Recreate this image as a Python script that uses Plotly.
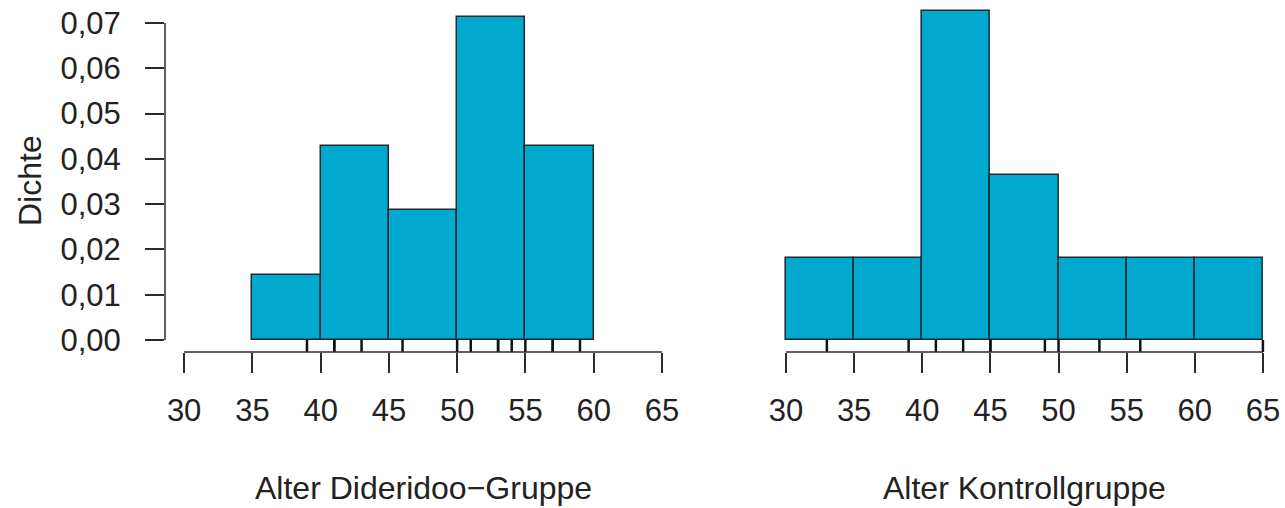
import plotly.graph_objects as go

# Histogram bins (left edges, width 5) and densities
bin_width = 5
didgeridoo_edges = [35, 40, 45, 50, 55]
didgeridoo_density = [0.0143, 0.0429, 0.0286, 0.0714, 0.0429]
control_edges = [30, 35, 40, 45, 50, 55, 60]
control_density = [0.0182, 0.0182, 0.0727, 0.0364, 0.0182, 0.0182, 0.0182]

# Individual ages shown as rug marks
didgeridoo_ages = [39, 41, 41, 43, 46, 50, 51, 53, 53, 54, 55, 57, 57, 59]
control_ages = [33, 39, 41, 43, 45, 45, 49, 50, 53, 56, 65]

# Axis ticks
x_ticks = [30, 35, 40, 45, 50, 55, 60, 65]
y_ticks = [0.00, 0.01, 0.02, 0.03, 0.04, 0.05, 0.06, 0.07]
y_ticktext = [f"{v:.2f}".replace(".", ",") for v in y_ticks]

FILL = "#00a9cd"
EDGE = "#1e2a30"
INK = "#2b2b2b"
TEXT = "#222222"
FONT = "Liberation Sans, Arial, Helvetica, sans-serif"
FS = 31
FS_TITLE = 32

W, H = 1285, 508
x_range = [28.6, 66.4]
y_range = [-0.00265, 0.07464]
rug_bottom = y_range[0]

fig = go.Figure()


def add_hist(edges, dens, xa, ya):
    fig.add_trace(go.Bar(
        x=[e + bin_width / 2 for e in edges], y=dens, width=bin_width,
        marker=dict(color=FILL, line=dict(color=EDGE, width=1.5)),
        xaxis=xa, yaxis=ya, showlegend=False, hoverinfo="skip",
    ))


def add_rug(ages, xa, ya):
    xs, ys = [], []
    for a in ages:
        xs += [a, a, None]
        ys += [rug_bottom, 0, None]
    fig.add_trace(go.Scatter(
        x=xs, y=ys, mode="lines", line=dict(color="#111111", width=2.5),
        xaxis=xa, yaxis=ya, showlegend=False, hoverinfo="skip", cliponaxis=False,
    ))


add_hist(didgeridoo_edges, didgeridoo_density, "x", "y")
add_hist(control_edges, control_density, "x2", "y2")
add_rug(didgeridoo_ages, "x", "y")
add_rug(control_ages, "x2", "y2")

y_dom = [(H - 352) / H, (H - 2) / H]

xaxis_common = dict(
    range=x_range, tickvals=x_ticks, ticktext=[str(t) for t in x_ticks],
    ticks="outside", ticklen=20, tickwidth=1.5, tickcolor=INK,
    showline=False, showgrid=False, zeroline=False, fixedrange=True,
    tickfont=dict(family=FONT, size=FS, color=TEXT),
    ticklabelstandoff=11, automargin=False,
)

fig.update_layout(
    width=W, height=H,
    margin=dict(l=0, r=0, t=0, b=0),
    paper_bgcolor="white", plot_bgcolor="white",
    bargap=0,
    xaxis=dict(domain=[165 / W, 681 / W], anchor="y", **xaxis_common),
    xaxis2=dict(domain=[766.9 / W, 1282 / W], anchor="y2", **xaxis_common),
    yaxis=dict(
        domain=y_dom, range=y_range, anchor="x",
        tickvals=y_ticks, ticktext=y_ticktext,
        ticks="outside", ticklen=19, tickwidth=1.5, tickcolor=INK,
        showline=False, showgrid=False, zeroline=False, fixedrange=True,
        tickfont=dict(family=FONT, size=FS, color=TEXT),
        ticklabelstandoff=18, automargin=False,
    ),
    yaxis2=dict(domain=y_dom, range=y_range, anchor="x2", matches="y",
                visible=False, fixedrange=True),
    shapes=[
        # y axis line spanning the tick range
        dict(type="line", xref="x domain", yref="y", x0=0, x1=0, y0=0, y1=0.07,
             line=dict(color=INK, width=1.5)),
        # x axis lines spanning the tick ranges
        dict(type="line", xref="x", yref="y domain", x0=30, x1=65, y0=0, y1=0,
             line=dict(color=INK, width=1.5)),
        dict(type="line", xref="x2", yref="y2 domain", x0=30, x1=65, y0=0, y1=0,
             line=dict(color=INK, width=1.5)),
    ],
    annotations=[
        dict(text="Dichte", xref="paper", yref="paper", x=30 / W, y=(H - 181) / H,
             textangle=-90, showarrow=False, xanchor="center", yanchor="middle",
             font=dict(family=FONT, size=FS_TITLE, color=TEXT)),
        dict(text="Alter Dideridoo\u2212Gruppe", xref="x", yref="paper", x=47.5,
             y=(H - 488) / H, showarrow=False, xanchor="center", yanchor="middle",
             font=dict(family=FONT, size=FS_TITLE, color=TEXT)),
        dict(text="Alter Kontrollgruppe", xref="x2", yref="paper", x=47.5,
             y=(H - 488) / H, showarrow=False, xanchor="center", yanchor="middle",
             font=dict(family=FONT, size=FS_TITLE, color=TEXT)),
    ],
)

fig.write_html("out.html")
